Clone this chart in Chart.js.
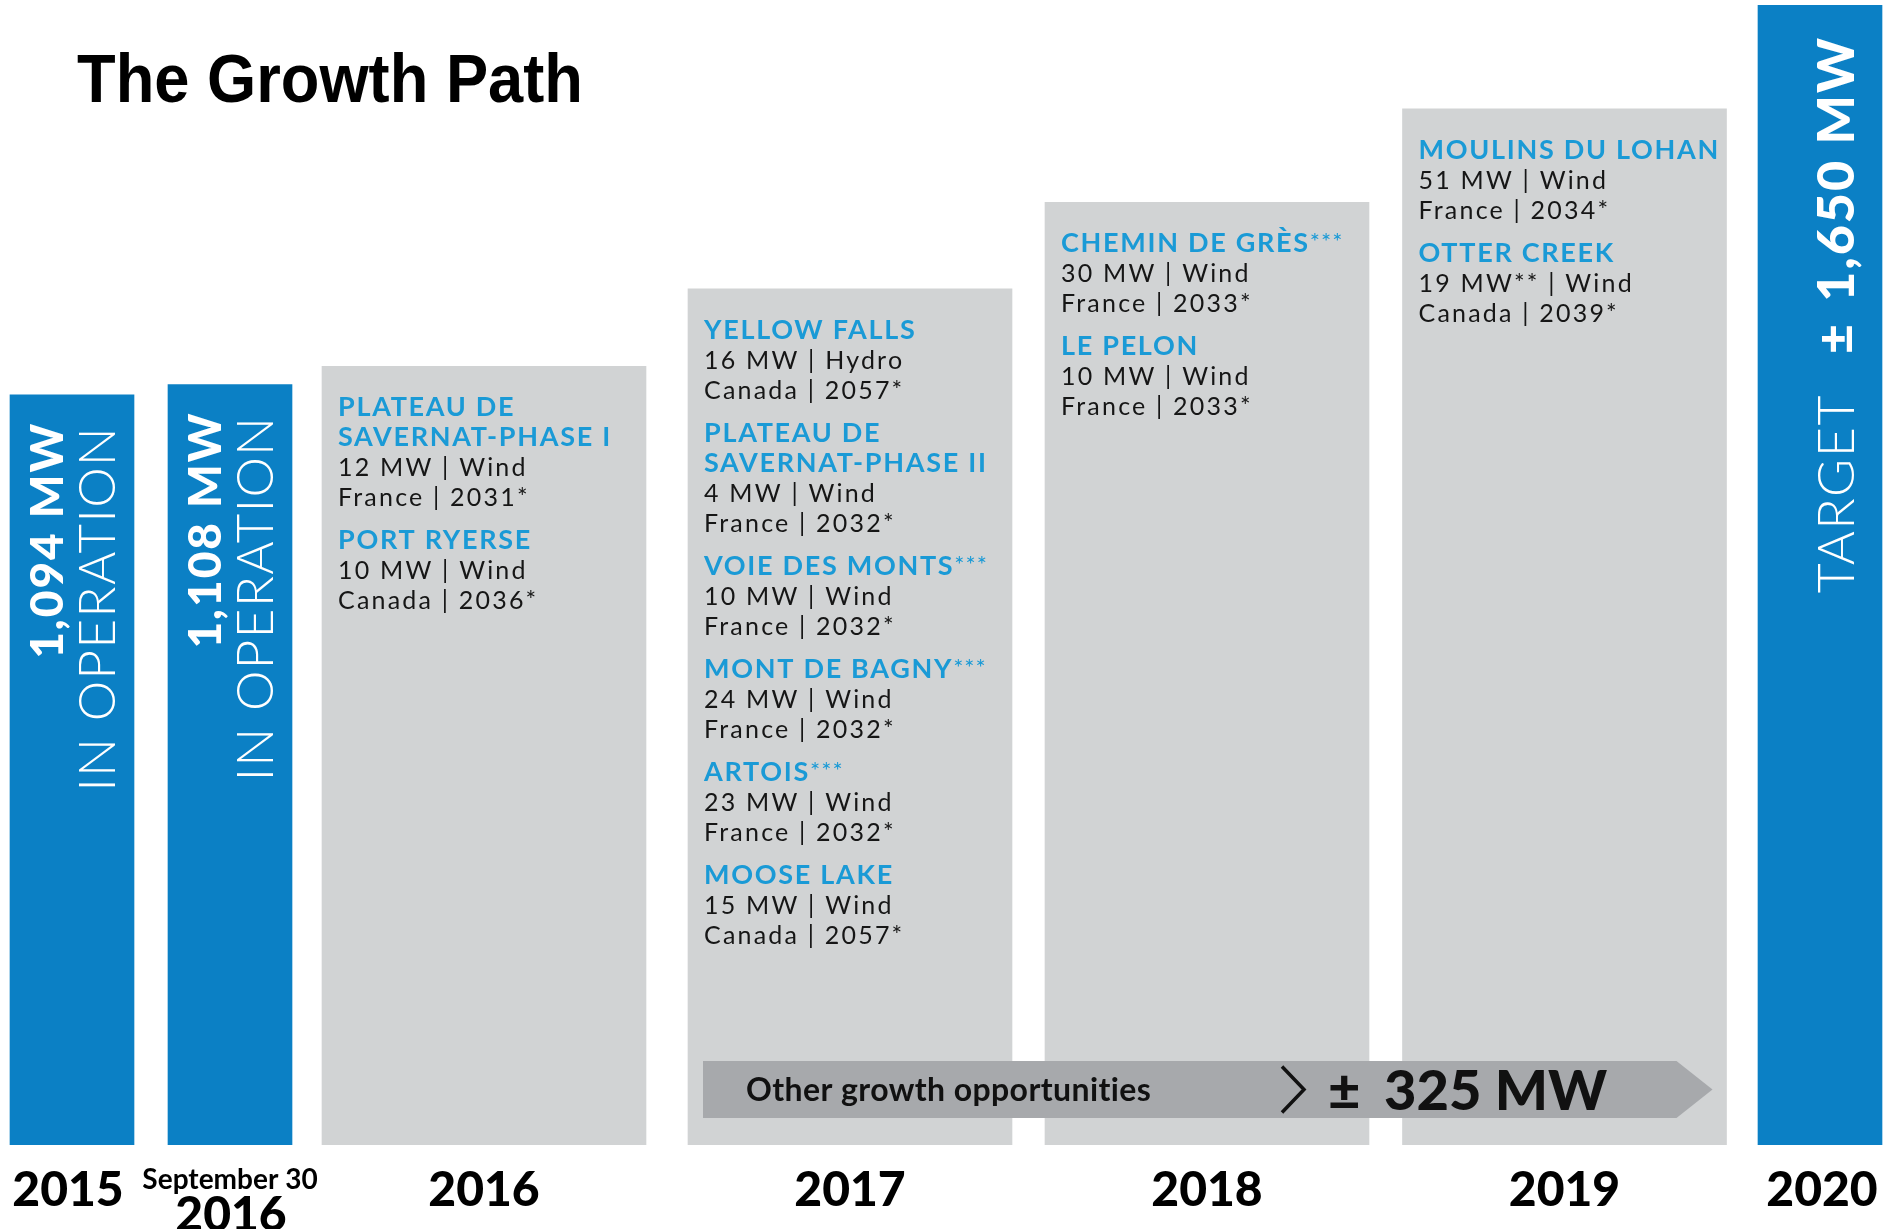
<!DOCTYPE html>
<html>
<head>
<meta charset="utf-8">
<script src="https://cdn.jsdelivr.net/npm/chart.js@4.4.1/dist/chart.umd.min.js"></script>
<style>
html,body{margin:0;padding:0;background:#ffffff;}
#wrap{width:1904px;height:1229px;position:relative;}
</style>
</head>
<body>
<div id="wrap"><canvas id="chart"></canvas></div>
<script>
// ---------------- DATA ----------------
const chartTitle = 'The Growth Path';
const categories = ['2015', 'September 30\n2016', '2016', '2017', '2018', '2019', '2020'];
// relative bar heights (% of the 2020 target bar; infographic, not to scale)
const barHeights = [65.8, 66.7, 68.3, 75.1, 82.7, 90.9, 100];
const barKinds = ['operation', 'operation', 'pipeline', 'pipeline', 'pipeline', 'pipeline', 'target'];
const operationMW = ['1,094 MW', '1,108 MW'];
const operationCaption = 'IN OPERATION';
const targetWord = 'TARGET';
const targetPlusMinus = '±';
const targetMW = '1,650 MW';
const otherGrowthLabel = 'Other growth opportunities';
const otherGrowthPlusMinus = '±';
const otherGrowthMW = '325 MW';

const projects2016 = [
  { name: ['PLATEAU DE', 'SAVERNAT-PHASE I'], marks: '', lines: ['12 MW | Wind', 'France | 2031*'] },
  { name: ['PORT RYERSE'], marks: '', lines: ['10 MW | Wind', 'Canada | 2036*'] }
];
const projects2017 = [
  { name: ['YELLOW FALLS'], marks: '', lines: ['16 MW | Hydro', 'Canada | 2057*'] },
  { name: ['PLATEAU DE', 'SAVERNAT-PHASE II'], marks: '', lines: ['4 MW | Wind', 'France | 2032*'] },
  { name: ['VOIE DES MONTS'], marks: '***', lines: ['10 MW | Wind', 'France | 2032*'] },
  { name: ['MONT DE BAGNY'], marks: '***', lines: ['24 MW | Wind', 'France | 2032*'] },
  { name: ['ARTOIS'], marks: '***', lines: ['23 MW | Wind', 'France | 2032*'] },
  { name: ['MOOSE LAKE'], marks: '', lines: ['15 MW | Wind', 'Canada | 2057*'] }
];
const projects2018 = [
  { name: ['CHEMIN DE GRÈS'], marks: '***', lines: ['30 MW | Wind', 'France | 2033*'] },
  { name: ['LE PELON'], marks: '', lines: ['10 MW | Wind', 'France | 2033*'] }
];
const projects2019 = [
  { name: ['MOULINS DU LOHAN'], marks: '', lines: ['51 MW | Wind', 'France | 2034*'] },
  { name: ['OTTER CREEK'], marks: '', lines: ['19 MW** | Wind', 'Canada | 2039*'] }
];
const projectLists = [null, null, projects2016, projects2017, projects2018, projects2019, null];

// ---------------- LAYOUT / STYLE ----------------
const columnWidths = [124, 124, 324, 324, 324, 323, 124];
const columnGaps = [34, 30, 42, 33, 34, 32];
const leftMargin = 10;
const canvasWidth = 1904;
const labelShift = [-4, 0, 0, 0, 0, 0, 2];
const centers = [];
(function () {
  let acc = leftMargin;
  columnWidths.forEach((w, i) => { centers.push(acc + w / 2); acc += w + (columnGaps[i] || 0); });
})();

const BLUE = '#0B80C5';
const GREY = '#D1D3D4';
const ARROW = '#A7A9AC';
const HEAD_BLUE = '#1A9AD6';
const FONT = 'Lato, "Open Sans", sans-serif';

const narrowIdx = barKinds.map((k, i) => (k !== 'pipeline' ? i : -1)).filter(i => i >= 0);
const wideIdx = barKinds.map((k, i) => (k === 'pipeline' ? i : -1)).filter(i => i >= 0);

function drawSpaced(ctx, text, x, y, spacing) {
  ctx.letterSpacing = spacing + 'px';
  ctx.fillText(text, x, y);
  const w = ctx.measureText(text).width;
  ctx.letterSpacing = '0px';
  return w;
}
function measureSpaced(ctx, text, spacing) {
  ctx.letterSpacing = spacing + 'px';
  const w = ctx.measureText(text).width;
  ctx.letterSpacing = '0px';
  return w;
}
// draws segments rotated -90deg, reading bottom-to-top, ending at endY
function drawRotated(ctx, segments, baselineX, endY) {
  let total = 0;
  segments.forEach(s => { ctx.font = s.font; total += (s.gap || 0) + measureSpaced(ctx, s.text, s.spacing || 0); });
  ctx.save();
  ctx.translate(baselineX, endY + total);
  ctx.rotate(-Math.PI / 2);
  ctx.textBaseline = 'alphabetic';
  ctx.textAlign = 'left';
  ctx.fillStyle = '#ffffff';
  let x = 0;
  segments.forEach(s => {
    x += (s.gap || 0);
    ctx.font = s.font;
    x += drawSpaced(ctx, s.text, x, 0, s.spacing || 0);
  });
  ctx.restore();
}

const decorPlugin = {
  id: 'decor',
  afterDatasetsDraw(chart) {
    const ctx = chart.ctx;
    const els = [];
    chart.data.datasets.forEach((ds, di) => {
      const meta = chart.getDatasetMeta(di);
      ds.srcIdx.forEach((src, j) => { els[src] = meta.data[j]; });
    });
    const box = i => {
      const e = els[i];
      return { left: e.x - e.width / 2, right: e.x + e.width / 2, top: e.y, bottom: e.base, cx: e.x };
    };

    // title
    ctx.save();
    ctx.fillStyle = '#000000';
    ctx.font = 'bold 68px "Liberation Sans", Arial, sans-serif';
    ctx.textBaseline = 'alphabetic';
    ctx.translate(77, 102);
    ctx.scale(0.93, 1);
    ctx.fillText(chartTitle, 0, 0);
    ctx.restore();

    // rotated captions in blue bars
    barKinds.forEach((k, i) => {
      const b = box(i);
      if (k === 'operation') {
        drawRotated(ctx, [{ text: operationMW[i], font: '900 46px ' + FONT, spacing: 2 }], b.left + 53, b.top + 27);
        drawRotated(ctx, [{ text: operationCaption, font: '300 51px ' + FONT, spacing: 1.5 }], b.left + 105, b.top + 31);
      } else if (k === 'target') {
        drawRotated(ctx, [
          { text: targetWord, font: '300 52px ' + FONT, spacing: 1.5 },
          { text: targetPlusMinus, font: '900 52px ' + FONT, gap: 40 },
          { text: targetMW, font: '900 52px ' + FONT, spacing: 2, gap: 22 }
        ], b.left + 96, b.top + 31);
      }
    });

    // project lists in grey boxes
    projectLists.forEach((list, i) => {
      if (!list) return;
      const b = box(i);
      const x = b.left + 16;
      let y = b.top + 50;
      list.forEach(p => {
        p.name.forEach((n, ni) => {
          ctx.fillStyle = HEAD_BLUE;
          ctx.font = 'bold 27px ' + FONT;
          const w = drawSpaced(ctx, n, x, y, 1.7);
          if (ni === p.name.length - 1 && p.marks) {
            ctx.font = '400 24px ' + FONT;
            drawSpaced(ctx, p.marks, x + w, y - 2, 1);
          }
          y += 30;
        });
        p.lines.forEach(l => {
          ctx.fillStyle = '#161616';
          ctx.font = '400 25px ' + FONT;
          drawSpaced(ctx, l, x, y, 2.2);
          y += 30;
        });
        y += 13;
      });
    });

    // other growth arrow
    const b17 = box(3), b19 = box(5);
    const base = b17.bottom;
    const aL = b17.left + 15, aR = b19.right - 50, tip = b19.right - 14;
    const aT = base - 84, aB = base - 27, aM = (aT + aB) / 2;
    ctx.save();
    ctx.fillStyle = ARROW;
    ctx.beginPath();
    ctx.moveTo(aL, aT); ctx.lineTo(aR, aT); ctx.lineTo(tip, aM); ctx.lineTo(aR, aB); ctx.lineTo(aL, aB); ctx.closePath();
    ctx.fill();
    ctx.fillStyle = '#111111';
    ctx.font = 'bold 32px ' + FONT;
    ctx.textBaseline = 'alphabetic';
    drawSpaced(ctx, otherGrowthLabel, aL + 43, aM + 11, 0.4);
    ctx.strokeStyle = '#111111';
    ctx.lineWidth = 3.5;
    ctx.beginPath();
    ctx.moveTo(aL + 579, aM - 23); ctx.lineTo(aL + 601, aM); ctx.lineTo(aL + 579, aM + 23);
    ctx.stroke();
    ctx.font = '900 56px ' + FONT;
    ctx.fillText(otherGrowthPlusMinus, aL + 625, aM + 20);
    ctx.font = '900 56px ' + FONT;
    ctx.fillText(otherGrowthMW, aL + 681, aM + 20);
    ctx.restore();

    // year labels
    ctx.save();
    ctx.fillStyle = '#000000';
    ctx.textAlign = 'center';
    ctx.textBaseline = 'alphabetic';
    categories.forEach((c, i) => {
      const b = box(i);
      const cx = b.cx + labelShift[i];
      const parts = c.split('\n');
      if (parts.length === 2) {
        ctx.font = 'bold 28px ' + FONT;
        ctx.fillText(parts[0], cx, base + 44);
        ctx.font = '900 48px ' + FONT;
        ctx.fillText(parts[1], cx + 1, base + 86);
      } else {
        ctx.font = '900 48px ' + FONT;
        ctx.fillText(parts[0], cx, base + 61);
      }
    });
    ctx.restore();
  }
};

new Chart(document.getElementById('chart'), {
  type: 'bar',
  data: {
    datasets: [
      {
        label: 'In operation / target',
        srcIdx: narrowIdx,
        data: narrowIdx.map(i => ({ x: centers[i], y: barHeights[i] })),
        backgroundColor: BLUE,
        borderWidth: 0,
        barThickness: 124,
        grouped: false
      },
      {
        label: 'Projects',
        srcIdx: wideIdx,
        data: wideIdx.map(i => ({ x: centers[i], y: barHeights[i] })),
        backgroundColor: GREY,
        borderWidth: 0,
        barThickness: 324,
        grouped: false
      }
    ]
  },
  options: {
    responsive: true,
    maintainAspectRatio: false,
    animation: false,
    devicePixelRatio: 1,
    layout: { padding: { top: 5, bottom: 84, left: 0, right: 0 } },
    scales: {
      x: { type: 'linear', min: 0, max: canvasWidth, display: false, offset: false, grid: { offset: false } },
      y: { min: 0, max: 100, display: false }
    },
    plugins: { legend: { display: false }, tooltip: { enabled: false }, title: { display: false } }
  },
  plugins: [decorPlugin]
});
</script>
</body>
</html>
